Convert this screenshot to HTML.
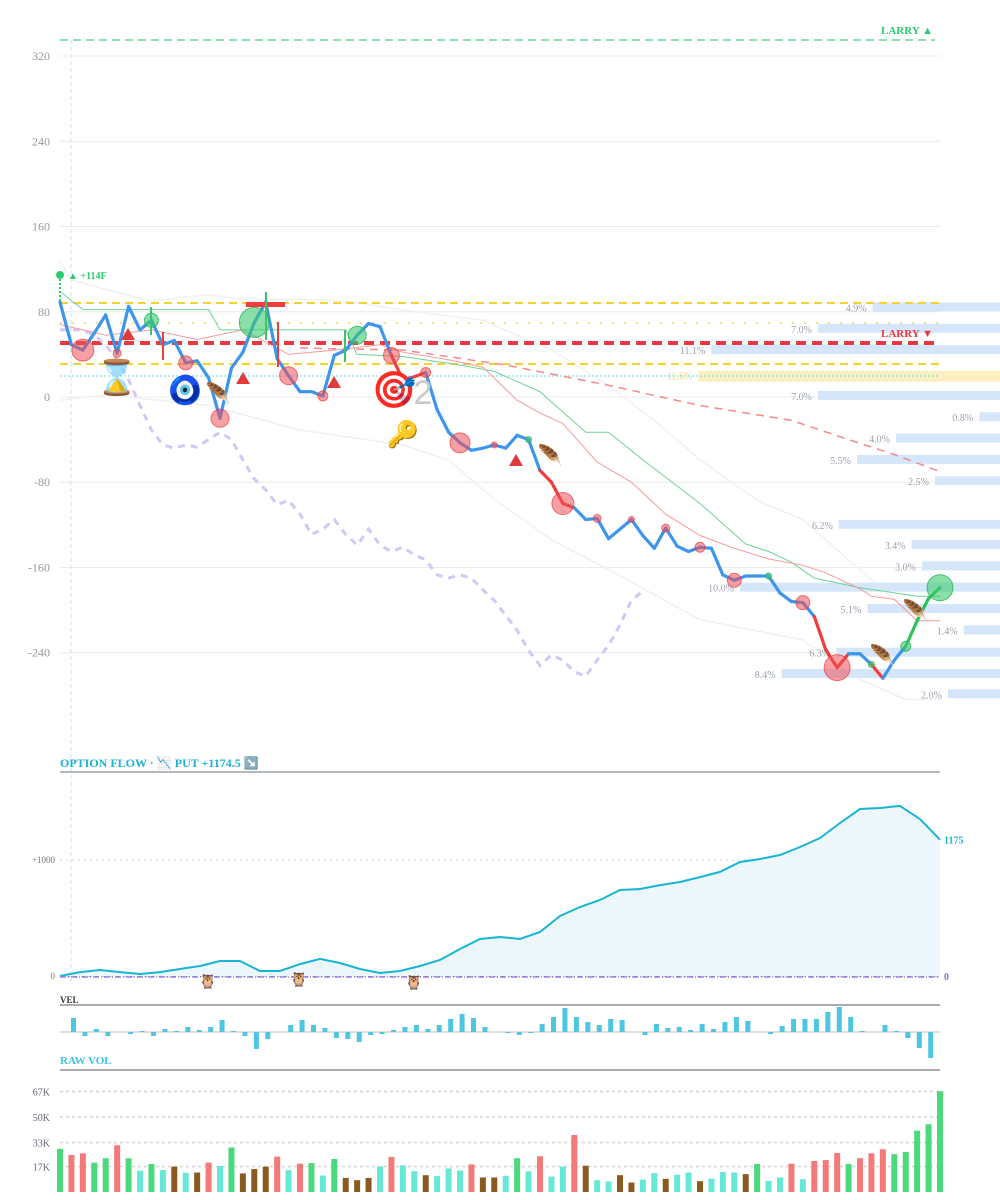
<!DOCTYPE html>
<html><head><meta charset="utf-8">
<style>
html,body{margin:0;padding:0;background:#fff;}
svg{display:block;font-family:"Liberation Serif",serif;}
</style></head>
<body>
<svg id="chart" width="1000" height="1200" viewBox="0 0 1000 1200" xmlns="http://www.w3.org/2000/svg"></svg>
<script>
// ---------- DATA ----------
const priceTicks = [320, 240, 160, 80, 0, -80, -160, -240];
const price = [89,49,44,60,77,41,85,63,72,49,53,32,34,18,-20,27,42,70,89,36,20,5,5,1,39,44,58,69,66,39,16,19,23,-12,-33,-43,-50,-48,-45,-48,-36,-40,-69,-80,-100,-104,-115,-114,-133,-124,-115,-130,-142,-123,-140,-145,-141,-142,-167,-172,-168,-168,-168,-184,-192,-193,-206,-237,-254,-241,-241,-251,-264,-247,-234,-210,-189,-179];
const lavender = [63,63,63,58,49,35,16,-8,-31,-45,-48,-45,-47,-40,-33,-40,-59,-77,-87,-101,-97,-110,-129,-124,-115,-129,-139,-124,-139,-145,-141,-148,-153,-167,-170,-167,-170,-181,-191,-205,-219,-238,-252,-242,-247,-258,-262,-247,-233,-214,-191,-182];
const greenMaIdx = [0,2,13,14,25,26,30,35,38,42,46,48,51,56,60,62,64,66,70,75,77];
const greenMa = [99,82,82,63,63,40,38,30,24,5,-33,-33,-59,-100,-138,-145,-155,-170,-179,-187,-187];
const pinkMaIdx = [0,4,8,12,16,20,24,28,30,34,37,40,42,44,47,50,53,56,59,62,65,67,70,71,73,75,77];
const pinkMa = [68,58,63,54,63,40,44,49,42,35,28,-3,-15,-25,-61,-80,-110,-130,-142,-152,-158,-165,-180,-187,-190,-210,-210];
const pinkDashIdx = [21,30,39,48,56,64,69,73,77];
const pinkDash = [46,44,30,11,-8,-22,-40,-54,-70];
const upperIdx = [0,1,4,8,13,17,21,25,31,37,43,48,52,56,61,65,69,73,77];
const upperBand = [127,110,101,90,96,90,92,90,80,72,44,11,-22,-59,-97,-115,-153,-190,-200];
const lowerIdx = [0,4,13,21,30,34,38,43,48,56,65,70,74,77];
const lowerBand = [-3,2,-8,-31,-45,-59,-96,-134,-162,-209,-228,-265,-284,-284];
const profileY = [84,64,44,20,1,-19,-39,-59,-79,-120,-139,-159,-179,-199,-219,-240,-260,-279];
const profilePct = ["4.9%","7.0%","11.1%","11.6%","7.0%","0.8%","4.0%","5.5%","2.5%","6.2%","3.4%","3.0%","10.0%","5.1%","1.4%","6.3%","8.4%","2.0%"];
const profileSize = [4.9,7.0,11.1,11.6,7.0,0.8,4.0,5.5,2.5,6.2,3.4,3.0,10.0,5.1,1.4,6.3,8.4,2.0];
const redMarkIdx = [2,5,11,14,20,23,29,32,35,38,44,47,50,53,56,59,65,68];
const redMarkR = [11,4,7,9,9,5,8,5,10,3,11,4,3,4,5,7,7,13];
const greenMarkIdx = [8,17,26,41,62,71,74,77];
const greenMarkR = [7,15,9,3,3,3,5,13];
const flowTicks = [0, 1000];
const flow = [0,34,52,34,17,34,60,86,129,129,43,43,103,147,112,60,26,43,86,138,233,319,336,319,379,517,595,655,741,750,784,810,853,897,983,1009,1043,1112,1190,1319,1440,1448,1466,1353,1175];
const vel = [14,-4,3,-4,0,-2,1,-4,3,1,5,2,5,12,1,-4,-17,-7,0,7,12,7,4,-6,-7,-10,-3,-2,2,5,7,3,7,13,18,14,5,0,-1,-3,-1,8,15,24,15,10,7,13,12,0,-3,8,4,5,2,8,3,10,15,11,0,-2,6,13,13,13,20,25,15,1,0,7,1,-6,-16,-26];
const volTicks = [17, 33, 50, 67];
const volume = [28.8,24.7,25.8,19.6,22.5,31.2,22.5,14.2,18.7,14.6,16.9,12.8,13,19.6,17.3,29.7,12.4,15.3,16.9,23.6,14.6,18.9,19.3,11,22,9.4,7.9,9.4,16.9,23.4,17.8,13.9,11.2,10.6,15.7,14.4,18.4,9.7,9.7,10.8,22.5,13.7,23.8,10.3,16.9,38,17.5,7.9,7,11.2,6.3,8.3,12.6,8.8,11.5,13,7.2,9,13.3,13,11.9,18.7,7.4,9.7,18.9,8.5,20.7,21.3,26,18.7,22.5,25.8,28.5,25.2,26.7,40.9,45.2,67.2];
const volType = "grrggrgtgtbtbrtgbbbrtrgtgbbbtrttbtttrbbtgtrttrbttbbttbttbtttbgttrtrrrgrrrggggg";

// ---------- helpers ----------
const S = document.getElementById('chart');
const NS = 'http://www.w3.org/2000/svg';
function mk(tag, attrs, parent){
  const e = document.createElementNS(NS, tag);
  for (const k in attrs) e.setAttribute(k, attrs[k]);
  (parent||S).appendChild(e);
  return e;
}
const X0 = 60, X1 = 940, N = price.length;
const xI = i => X0 + i*(X1-X0)/(N-1);
const yP = v => 397 - v*1.0655;
const yF = v => 976 - v*0.116;
const yV = k => 1192 - k*1.5;
function pts(idx, vals, yf){ return vals.map((v,j)=> xI(idx?idx[j]:j).toFixed(1)+','+yf(v).toFixed(1)).join(' '); }

// ---------- main grid ----------
const grid = mk('g',{});


priceTicks.forEach(t=>{
  const l = mk('line',{x1:60,x2:940,y1:yP(t),y2:yP(t),stroke:'#ececec','stroke-width':1},grid);
  
  
  const tx = mk('text',{x:50,y:yP(t)+4,'text-anchor':'end','font-size':12,fill:'#999'},grid);
  tx.textContent = t;
  
  
});
const vline = mk('line',{x1:71,x2:71,y1:40,y2:985,stroke:'#bfeaf0','stroke-dasharray':'4 3'});



// bands
const ub = mk('polyline',{points:pts(upperIdx,upperBand,yP),fill:'none',stroke:'#f1f1f1','stroke-width':1.5});


const lb = mk('polyline',{points:pts(lowerIdx,lowerBand,yP),fill:'none',stroke:'#f1f1f1','stroke-width':1.5});



// volume profile
profileY.forEach((v,i)=>{
  const w = profileSize[i]*26;
  const y = yP(v);
  const yellow = i===3;
  const r = mk('rect',{x:1000-w,y:y-5,width:w,height:yellow?11:9,fill:yellow?'#fdf0c0':'#d5e6fa'});
  
  
  const t = mk('text',{x:1000-w-6,y:y+4,'text-anchor':'end','font-size':10,fill:yellow?'#f5d46a':'#9aa2ae'});
  t.textContent = profilePct[i];
  
  
});

// level lines
function hl(y,color,w,dash,name,x2){
  const l = mk('line',{x1:60,x2:x2||940,y1:y,y2:y,stroke:color,'stroke-width':w,'stroke-dasharray':dash});
  
  
}
hl(40,'#8ee0ae',2,'8 5','larry-up-line',935);
hl(303,'#f5d22e',2,'8 5','upper-yellow-level');
hl(323,'#f7e27a',2,'2 10','yellow-dotted-level');
hl(343,'#e8383d',4,'10 6','larry-down-line',935);
hl(364,'#f5d22e',2,'8 5','lower-yellow-level');
hl(376,'#5ee0ea',1,'2 2','cyan-dotted-level');

const lu = mk('text',{x:933,y:34,'text-anchor':'end','font-size':11,'font-weight':'bold',fill:'#2ecc71'});
lu.textContent='LARRY ▲';


const ld = mk('text',{x:933,y:337,'text-anchor':'end','font-size':11,'font-weight':'bold',fill:'#e8383d'});
ld.textContent='LARRY ▼';



// MAs
const pd = mk('polyline',{points:pts(pinkDashIdx,pinkDash,yP),fill:'none',stroke:'#f48a8a','stroke-width':1.5,'stroke-dasharray':'8 6'});


const lav = mk('polyline',{points:pts(null,lavender,yP),fill:'none',stroke:'#d2c8f6','stroke-width':3,'stroke-dasharray':'7 6'});


const gm = mk('polyline',{points:pts(greenMaIdx,greenMa,yP),fill:'none',stroke:'#6fd494','stroke-width':1});


const pm = mk('polyline',{points:pts(pinkMaIdx,pinkMa,yP),fill:'none',stroke:'#f59a9a','stroke-width':1});



// price line
for(let i=0;i<N-1;i++){
  let c = '#3d95ee';
  if ((i>=29&&i<=31)||(i>=42&&i<=44)||(i>=66&&i<=68)||i===71) c='#f03c3c';
  if (i>=74) c='#2ec25f';
  const l = mk('line',{x1:xI(i),y1:yP(price[i]),x2:xI(i+1),y2:yP(price[i+1]),stroke:c,'stroke-width':3.2,'stroke-linecap':'round'});
  
  
}

// markers
redMarkIdx.forEach((ix,j)=>{
  const c = mk('circle',{cx:xI(ix),cy:yP(price[ix]),r:redMarkR[j],fill:'rgba(240,80,85,0.55)',stroke:'rgba(230,60,70,0.7)','stroke-width':1});
  
  
});
greenMarkIdx.forEach((ix,j)=>{
  const c = mk('circle',{cx:xI(ix),cy:yP(price[ix]),r:greenMarkR[j],fill:'rgba(60,200,110,0.6)',stroke:'rgba(40,180,90,0.8)','stroke-width':1});
  
  
});
const rb = mk('rect',{x:246,y:302,width:39,height:5,fill:'#f03c3c'});


[[151,307,335,'#3cc46a'],[266,292,340,'#3cc46a'],[345,330,362,'#3cc46a'],[163,332,360,'#f03c3c'],[278,322,367,'#f03c3c']].forEach(a=>{
  const l = mk('line',{x1:a[0],x2:a[0],y1:a[1],y2:a[2],stroke:a[3],'stroke-width':2});
  
  
});
[[128,334],[243,378],[334,382],[516,460]].forEach(p=>{
  const t = mk('polygon',{points:`${p[0]-7},${p[1]+6} ${p[0]+7},${p[1]+6} ${p[0]},${p[1]-6}`,fill:'#e03a3a'});
  
  
});
function emo(ch,x,y,sz,name,fill){
  const t = mk('text',{x:x,y:y,'font-size':sz,'text-anchor':'middle','dominant-baseline':'central','font-family':'"Noto Color Emoji","DejaVu Sans",sans-serif',fill:fill||'#000'});
  t.textContent = ch;
  
  
}
emo('⌛',117,378,34,'hourglass-icon','#b07020');
emo('🧿',185,390,28,'nazar-icon','#1a2aa0');
emo('🪶',218,393,20,'feather-icon','#8a5a2a');
emo('🪶',550,455,20,'feather-icon','#8a5a2a');
emo('🪶',915,610,20,'feather-icon','#8a5a2a');
emo('🪶',882,655,20,'feather-icon','#8a5a2a');
emo('🎯',394,390,36,'target-icon','#e03030');
emo('🔑',403,435,26,'key-icon','#e08a10');
const two = mk('text',{x:423,y:404,'text-anchor':'middle','font-size':34,fill:'#c8c8c8','font-family':'"Liberation Sans",sans-serif'});
two.textContent='2';


const gd = mk('circle',{cx:60,cy:275,r:4,fill:'#2ecc71'});


const gdl = mk('line',{x1:60,x2:60,y1:275,y2:302,stroke:'#2ecc71','stroke-width':2,'stroke-dasharray':'2 2'});


const gt = mk('text',{x:68,y:279,'font-size':10,'font-weight':'bold',fill:'#2ecc71'});
gt.textContent='▲ +114F';



// ---------- option flow ----------
const ft = mk('text',{x:60,y:767,'font-size':12,'font-weight':'bold',fill:'#1ab3d0'});
ft.textContent='OPTION FLOW · 📉 PUT +1174.5 ↘️';


const fsep = mk('line',{x1:60,x2:940,y1:772,y2:772,stroke:'#b4b8bc','stroke-width':2});


const fxI = i => X0 + i*(X1-X0)/(flow.length-1);
flowTicks.forEach(t=>{
  const l = mk('line',{x1:60,x2:940,y1:yF(t),y2:yF(t),stroke:t?'#d0d0d0':'#888','stroke-dasharray':t?'2 4':'4 3'});
  
  
  const tx = mk('text',{x:55,y:yF(t)+3,'text-anchor':'end','font-size':9,fill:'#777'});
  tx.textContent = t? '+'+t : '0';
  
  
});
const fp = flow.map((v,i)=>fxI(i).toFixed(1)+','+yF(v).toFixed(1)).join(' ');
const fa = mk('polygon',{points:`60,${yF(0)} ${fp} 940,${yF(0)}`,fill:'#eef8fc'});


const fl = mk('polyline',{points:fp,fill:'none',stroke:'#17b4d4','stroke-width':2});


const pl = mk('line',{x1:60,x2:940,y1:yF(0)+1,y2:yF(0)+1,stroke:'#9b7ee6','stroke-width':1.5,'stroke-dasharray':'6 2 1 2'});


const fe = mk('text',{x:944,y:yF(flow[flow.length-1])+4,'font-size':10,'font-weight':'bold',fill:'#17b4d4'});
fe.textContent = Math.round(flow[flow.length-1]);


const fz = mk('text',{x:944,y:yF(0)+4,'font-size':10,'font-weight':'bold',fill:'#8c6ee0'});
fz.textContent='0';


emo('🦉',208,982,14,'owl-icon','#8a5a2a');
emo('🦉',299,980,14,'owl-icon','#8a5a2a');
emo('🦉',414,983,14,'owl-icon','#8a5a2a');

// ---------- VEL ----------
const vt = mk('text',{x:60,y:1003,'font-size':9,'font-weight':'bold',fill:'#333'});
vt.textContent='VEL';


const vs = mk('line',{x1:60,x2:940,y1:1005,y2:1005,stroke:'#a8acb0','stroke-width':2});


const vb = mk('line',{x1:60,x2:940,y1:1032,y2:1032,stroke:'#b8bcc0','stroke-width':1});


vel.forEach((v,i)=>{
  const x = 73.5 + i*(880-22)/(vel.length-1+0.07) ;
  const r = mk('rect',{x:x-2.5,y:v>=0?1032-v:1032,width:5,height:Math.abs(v),fill:'#4fc6df'});
  
  
});

// ---------- RAW VOL ----------
const rt = mk('text',{x:60,y:1064,'font-size':11,'font-weight':'bold',fill:'#3cc2e8'});
rt.textContent='RAW VOL';


const rs = mk('line',{x1:60,x2:940,y1:1070,y2:1070,stroke:'#a8acb0','stroke-width':2});


volTicks.forEach(t=>{
  const l = mk('line',{x1:60,x2:940,y1:yV(t),y2:yV(t),stroke:'#d4d4d4','stroke-width':1.5,'stroke-dasharray':'3 3'});
  
  
  const tx = mk('text',{x:50,y:yV(t)+4,'text-anchor':'end','font-size':10,fill:'#667'});
  tx.textContent = t+'K';
  
  
});
const colorMap = {g:'#4cd97b',r:'#f47a7a',b:'#8b5a1e',t:'#66e8d6'};
volume.forEach((v,i)=>{
  const x = xI(i);
  const r = mk('rect',{x:x-3,y:yV(v),width:6,height:v*1.5,fill:colorMap[volType[i]]||'#66e8d6'});
  
  
});
</script>
</body></html>
